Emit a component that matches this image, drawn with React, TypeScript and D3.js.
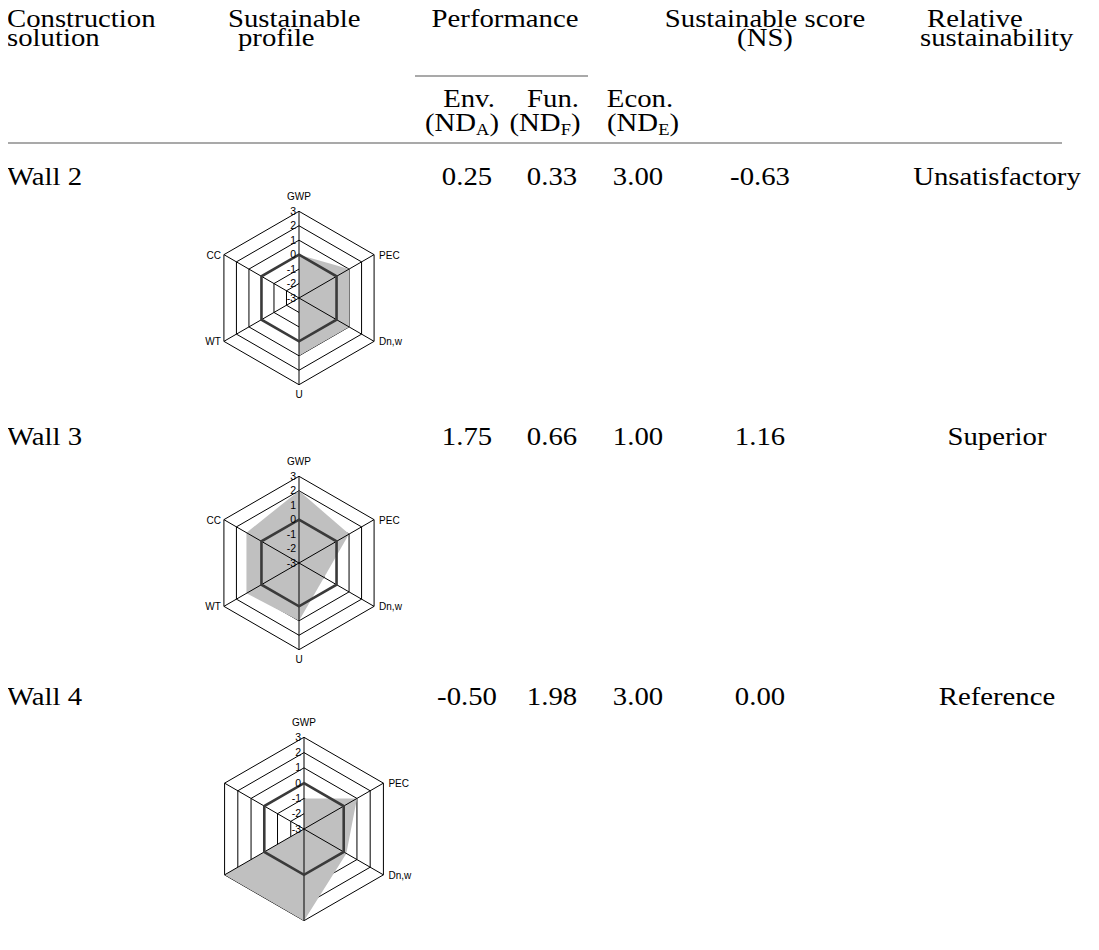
import React from 'react';
import * as d3 from 'd3';

// ---------- data ----------
const axisNames = ['GWP', 'PEC', 'Dn,w', 'U', 'WT', 'CC'];
const tickValues = [3, 2, 1, 0, -1, -2, -3];
const wallNames = ['Wall 2', 'Wall 3', 'Wall 4'];
const wall2Profile = [0, 1, 1, 1, -3, -3];
const wall3Profile = [2, 1, -1, 1, 1.2, 1.2];
const wall4Profile = [-1, 1, 0.2, 3, 3, -3];
const envND = ['0.25', '1.75', '-0.50'];
const funND = ['0.33', '0.66', '1.98'];
const econND = ['3.00', '1.00', '3.00'];
const nsScore = ['-0.63', '1.16', '0.00'];
const relSustainability = ['Unsatisfactory', 'Superior', 'Reference'];
const profiles = [wall2Profile, wall3Profile, wall4Profile];
const hiddenAxisLabels = [[], [], ['U', 'WT', 'CC']];

// ---------- layout ----------
const W = 1099;
const H = 942;
const serif = '"Liberation Serif", "Times New Roman", serif';
const sans = '"Liberation Sans", Arial, sans-serif';
const FS = 25;
const SX = 1.15;
const rowBase = [185, 445, 705];
const numCenters = [467, 552, 638, 760];
const relCenter = 997;
const chartCenters = [
  { cx: 299, cy: 298, R: 86.7 },
  { cx: 299, cy: 563, R: 86.7 },
  { cx: 304, cy: 829, R: 91.7 },
];

function T({ x, y, anchor = 'start', children }: any) {
  return (
    <text
      transform={`translate(${x},${y}) scale(${SX},1)`}
      textAnchor={anchor}
      fontFamily={serif}
      fontSize={FS}
      fill="#000"
    >
      {children}
    </text>
  );
}

function Radar({ values, cx, cy, R, hidden }: any) {
  const r = d3.scaleLinear().domain([-3, 3]).range([0, R]);
  const ang = (i: number) => (i * Math.PI) / 3;
  const pt = (i: number, v: number): [number, number] => [
    cx + r(v) * Math.sin(ang(i)),
    cy - r(v) * Math.cos(ang(i)),
  ];
  const closed = d3.line().curve(d3.curveLinearClosed);
  const ring = (v: number) => closed(axisNames.map((_, i) => pt(i, v))) as string;
  const poly = closed(values.map((v: number, i: number) => pt(i, v))) as string;
  return (
    <g>
      {tickValues
        .filter((v) => v > -3 && v !== 0)
        .map((v) => (
          <path key={v} d={ring(v)} fill="none" stroke="#000" strokeWidth={1} />
        ))}
      <path d={poly} fill="#c0c0c0" stroke="none" />
      {axisNames.map((_, i) => {
        const [x, y] = pt(i, 3);
        return <line key={i} x1={cx} y1={cy} x2={x} y2={y} stroke="#000" strokeWidth={1} />;
      })}
      <path d={ring(0)} fill="none" stroke="#3a3a3a" strokeWidth={2.6} />
      {tickValues.map((v) => (
        <text
          key={v}
          x={cx - 3}
          y={cy - r(v) + 3.5}
          textAnchor="end"
          fontFamily={sans}
          fontSize={10.5}
          fill="#000"
        >
          {v}
        </text>
      ))}
      {axisNames.map((name, i) => {
        if (hidden.includes(name)) return null;
        const [x, y] = pt(i, 3);
        const s = Math.sin(ang(i));
        const c = Math.cos(ang(i));
        let anchor = 'middle';
        let dx = 0;
        let dy = 0;
        if (Math.abs(s) < 0.01) {
          dy = c > 0 ? -11 : 13;
        } else {
          anchor = s > 0 ? 'start' : 'end';
          dx = s > 0 ? 5 : -3;
          dy = 4;
        }
        return (
          <text
            key={name}
            x={x + dx}
            y={y + dy}
            textAnchor={anchor}
            fontFamily={sans}
            fontSize={10}
            fill="#000"
          >
            {name}
          </text>
        );
      })}
    </g>
  );
}

function Sub({ sub }: any) {
  return (
    <>
      (ND
      <tspan fontSize={16} dy={4}>{sub}</tspan>
      <tspan dy={-4}>)</tspan>
    </>
  );
}

export default function App() {
  return (
    <svg width={W} height={H} style={{ display: 'block', background: '#fff', marginTop: -8, marginLeft: -8 }}>
      {/* rules */}
      <line x1={0} x2={1062} y1={3} y2={3} stroke="#555" strokeWidth={1.2} />
      <line x1={415} x2={588} y1={76} y2={76} stroke="#555" strokeWidth={1.2} />
      <line x1={0} x2={1062} y1={143} y2={143} stroke="#555" strokeWidth={1.2} />

      {/* header */}
      <T x={7} y={27}>Construction</T>
      <T x={7} y={46}>solution</T>
      <T x={228} y={27}>Sustainable</T>
      <T x={238} y={46}>profile</T>
      <T x={505} y={27} anchor="middle">Performance</T>
      <T x={765} y={27} anchor="middle">Sustainable score</T>
      <T x={765} y={46} anchor="middle">(NS)</T>
      <T x={927} y={27}>Relative</T>
      <T x={920} y={46}>sustainability</T>
      <T x={469} y={107} anchor="middle">Env.</T>
      <T x={553} y={107} anchor="middle">Fun.</T>
      <T x={640} y={107} anchor="middle">Econ.</T>
      <T x={462} y={131} anchor="middle"><Sub sub="A" /></T>
      <T x={545} y={131} anchor="middle"><Sub sub="F" /></T>
      <T x={643} y={131} anchor="middle"><Sub sub="E" /></T>

      {/* rows */}
      {wallNames.map((name, i) => {
        const cols = [envND[i], funND[i], econND[i], nsScore[i]];
        return (
          <g key={name}>
            <T x={7} y={rowBase[i]}>{name}</T>
            {cols.map((v, j) => (
              <T key={j} x={numCenters[j]} y={rowBase[i]} anchor="middle">{v}</T>
            ))}
            <T x={relCenter} y={rowBase[i]} anchor="middle">{relSustainability[i]}</T>
            <Radar
              values={profiles[i]}
              cx={chartCenters[i].cx}
              cy={chartCenters[i].cy}
              R={chartCenters[i].R}
              hidden={hiddenAxisLabels[i]}
            />
          </g>
        );
      })}
    </svg>
  );
}
